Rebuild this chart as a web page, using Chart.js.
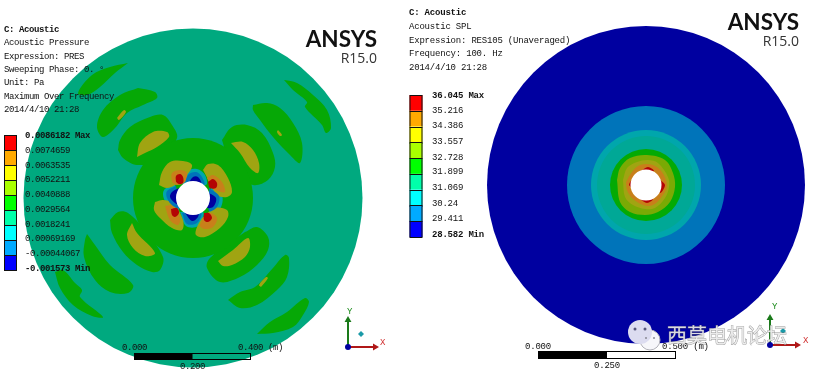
<!DOCTYPE html>
<html>
<head>
<meta charset="utf-8">
<style>
  html, body { margin: 0; padding: 0; background: #fff; overflow: hidden; }
  canvas { position: absolute; top: 0; }
</style>
<script src="https://cdn.jsdelivr.net/npm/chart.js@4/dist/chart.umd.min.js"></script>
</head>
<body>
<canvas id="pressure" width="400" height="373" style="left:0"></canvas>
<canvas id="spl" width="413" height="373" style="left:400px"></canvas>
<script>
// contour colours, top of the legend first
const bandColours = ['#ff0000', '#ffaa00', '#ffff00', '#aaff00', '#00ff00', '#00ffaa', '#00ffff', '#00aaff', '#0000ff'];
// same colours as they look on the lit model
const RED = '#b40404', ORANGE = '#c8801a', OLIVE = '#a0a412', GREEN = '#06a806', TEAL = '#00a97f', CYAN = '#00a6ac', SKY = '#0074ba', NAVY = '#0000a0';

const pressureTicks = ['0.0086182', '0.0074659', '0.0063535', '0.0052211', '0.0040888', '0.0029564', '0.0018241', '0.00069169', '-0.00044067', '-0.001573'];
const splTicks = ['36.045', '35.216', '34.386', '33.557', '32.728', '31.899', '31.069', '30.24', '29.411', '28.582'];

const pressureInfo = ['C: Acoustic', 'Acoustic Pressure', 'Expression: PRES', 'Sweeping Phase: 0. °', 'Unit: Pa', 'Maximum Over Frequency', '2014/4/10 21:28'];
const splInfo = ['C: Acoustic', 'Acoustic SPL', 'Expression: RES105 (Unaveraged)', 'Frequency: 100. Hz', '2014/4/10 21:28'];

// pressure plot, origin on the hole
const pressureDisc = 169.5, pressureCore = 60, pressureHole = 17;
const pressureGreen = [
  [[-65,135],[-83,131],[-101,123],[-115,105],[-106,103],[-93,111],[-78,125]],
  [[-55,110],[-38,106],[-36,100],[-50,93],[-66,85],[-78,70],[-90,61],[-96,71],[-90,88],[-73,103]],
  [[-75,48],[-73,58],[-63,71],[-43,81],[-30,83],[-21,73],[-16,60],[-33,38],[-56,33],[-70,40]],
  [[91,118],[104,115],[120,103],[134,88],[138,70],[133,65],[129,73],[112,91],[114,96],[100,108]],
  [[60,93],[74,95],[87,90],[100,75],[109,55],[107,35],[97,43],[80,61],[67,78],[60,88]],
  [[29,58],[39,71],[54,73],[69,65],[80,45],[82,31],[75,18],[60,13],[40,25]],
  [[-138,-74],[-130,-72],[-118,-85],[-111,-92],[-113,-99],[-90,-119],[-101,-118],[-120,-107],[-133,-90]],
  [[-106,-36],[-98,-47],[-83,-67],[-60,-87],[-65,-95],[-83,-94],[-98,-82],[-109,-59],[-108,-42]],
  [[-83,-22],[-81,-35],[-70,-54],[-56,-67],[-41,-74],[-33,-72],[-30,-59],[-50,-30],[-65,-15],[-75,-14]],
  [[64,-136],[77,-124],[94,-114],[112,-100],[116,-104],[110,-117],[100,-129],[80,-135]],
  [[35,-102],[47,-94],[62,-89],[80,-70],[92,-57],[96,-60],[94,-79],[84,-92],[64,-107],[47,-110]],
  [[52,-34],[64,-29],[75,-39],[75,-52],[64,-67],[47,-79],[27,-84],[14,-70],[17,-60]]
];
const pressureCyan = [
  [[-11,14],[-6,27],[4,29],[12,23],[13,13]],
  [[18,12],[29,3],[27,-11],[17,-15]],
  [[-13,-14],[-7,-28],[5,-28],[10,-14]],
  [[-18,14],[-29,8],[-29,-1],[-22,-10],[-14,-12]]
];
const pressureOlive = [
  [[-56,41],[-53,55],[-40,66],[-26,66],[-24,61],[-36,51],[-48,45]],
  [[38,55],[50,56],[60,48],[66,35],[65,25],[57,30],[47,45]],
  [[-61,-25],[-56,-35],[-38,-55],[-48,-58],[-60,-50],[-66,-37]],
  [[25,-63],[40,-52],[55,-40],[57,-49],[52,-59],[39,-67],[30,-68]],
  [[-34,13],[-31,26],[-23,36],[-10,37],[-1,33],[-6,23],[-18,13],[-26,10]],
  [[10,28],[15,34],[25,33],[35,20],[39,6],[34,1],[24,3],[17,15]],
  [[-38,-4],[-30,-2],[-20,-5],[-10,-22],[-11,-32],[-21,-30],[-33,-20],[-39,-12]],
  [[9,-20],[22,-10],[34,-12],[35,-19],[27,-30],[12,-39],[3,-37],[4,-29]],
  [[-76,80],[-69,88],[-67,86],[-74,78]],
  [[85,68],[89,63],[87,62],[84,66]],
  [[68,-89],[75,-80],[73,-79],[66,-87]]
];
const pressureOrange = [
  [[-21,16],[-21,25],[-13,28],[-6,25],[-8,16],[-16,13]],
  [[14,20],[20,23],[29,16],[32,6],[25,7],[19,10]],
  [[-28,-8],[-20,-8],[-13,-20],[-15,-27],[-23,-22]],
  [[10,-20],[17,-15],[24,-20],[20,-29],[12,-31],[7,-28]]
];
const pressureRed = [
  [[-17,16],[-17,22],[-13,24],[-10,21],[-10,15],[-14,14]],
  [[15,16],[20,19],[24,15],[23,10],[17,10]],
  [[-22,-11],[-16,-10],[-14,-15],[-18,-19],[-21,-17]],
  [[11,-15],[16,-15],[19,-20],[15,-24],[11,-22]]
];
const pressureSky = [
  [[-8,14],[-5,23],[3,26],[9,21],[11,13]],
  [[16,10],[26,2],[24,-9],[16,-13]],
  [[-11,-15],[-6,-26],[4,-25],[8,-15]],
  [[-17,12],[-26,7],[-26,0],[-20,-8],[-13,-10]]
];
const pressureNavy = [
  [[-5,14],[0,21],[5,21],[8,14]],
  [[14,6],[23,0],[20,-9],[13,-9]],
  [[-8,-15],[-1,-23],[5,-19],[5,-13]],
  [[-14,10],[-21,6],[-23,1],[-18,-5],[-13,-7]]
];

// SPL plot: outer rings are round, inner ones a bit square
const splRingRadii = [159, 79, 55, 49, 36];
const splRingColours = [NAVY, SKY, CYAN, '#00a896', '#04aa04'];
const splHole = 15.5;
const splYellowGreen = [[-29,5],[-26,17],[-16,27],[1,30],[19,25],[27,12],[29,-2],[24,-17],[12,-27],[-1,-30],[-16,-27],[-26,-17]];
const splYellow = [[-23,5],[-19,17],[-9,23],[2,25],[12,22],[22,8],[23,-2],[19,-13],[9,-23],[-1,-24],[-13,-20],[-21,-12]];
const splOrange = [[-20,3],[-14,13],[-6,20],[7,20],[16,13],[21,0],[17,-10],[7,-20],[-3,-20],[-14,-13],[-19,-5]];
const splRed = [
  [[-5,14],[2,18],[8,14]],
  [[13,6],[19,0],[14,-8]],
  [[-6,-14],[1,-18],[7,-14]],
  [[-13,-3],[-17,0],[-13,6]]
];

function patch(points, colour) {
  // closed filled contour
  const closed = points.concat([points[0]]).map(p => ({ x: p[0], y: p[1] }));
  return { type: 'scatter', data: closed, showLine: true, fill: 'shape', backgroundColor: colour,
           borderWidth: 0, pointRadius: 0, tension: 0.35 };
}
function round(r, colour) {
  return { type: 'bubble', data: [{ x: 0, y: 0, r: r }], backgroundColor: colour, borderWidth: 0 };
}
function stick(from, to, colour, rotation) {
  // triad arm with an arrow head on the end
  return { type: 'scatter', data: [{ x: from[0], y: from[1] }, { x: to[0], y: to[1] }], showLine: true, borderColor: colour, borderWidth: 2,
           pointRadius: [0, 4], pointStyle: 'triangle', pointRotation: rotation, pointBackgroundColor: colour, pointBorderWidth: 0 };
}

function overlay(cfg) {
  // legend, scale bar and all of the texts
  return {
    id: 'overlay',
    afterDraw(chart) {
      const ctx = chart.ctx;
      const mono = (size, bold) => (bold ? 'bold ' : '') + size + 'px "Liberation Mono"';
      ctx.save();
      ctx.textBaseline = 'middle';
      ctx.textAlign = 'left';
      ctx.fillStyle = '#111';

      ctx.letterSpacing = cfg.spacing;
      cfg.info.forEach((line, i) => {
        ctx.font = mono(9, i === 0);
        ctx.fillText(line, cfg.infoX, cfg.infoY[i]);
      });

      const step = (cfg.barBottom - cfg.barTop) / bandColours.length;
      bandColours.forEach((c, i) => {
        ctx.fillStyle = c;
        ctx.fillRect(cfg.barX, cfg.barTop + i * step, cfg.barW, step);
        ctx.strokeStyle = '#111';
        ctx.lineWidth = 1;
        ctx.strokeRect(cfg.barX + .5, Math.round(cfg.barTop + i * step) + .5, cfg.barW - 1, Math.round(step));
      });
      ctx.fillStyle = '#111';
      cfg.ticks.forEach((t, i) => {
        const end = i === 0 || i === cfg.ticks.length - 1;
        ctx.font = mono(9, end);
        let text = t;
        if (i === 0) text += ' Max';
        if (end && i !== 0) text += ' Min';
        ctx.fillText(text, cfg.tickX, cfg.tickY[i]);
      });

      // scale bar
      const s = cfg.scale;
      if (s.fillRight) { ctx.fillStyle = '#fff'; ctx.fillRect(s.x0, s.y, s.x1 - s.x0, s.h); }
      ctx.fillStyle = '#000';
      ctx.fillRect(s.x0, s.y, (s.x1 - s.x0) / 2, s.h);
      ctx.strokeStyle = '#000';
      ctx.strokeRect(s.x0 + .5, s.y + .5, s.x1 - s.x0 - 1, s.h - 1);
      ctx.fillStyle = '#111';
      ctx.font = mono(9);
      s.labels.forEach(l => ctx.fillText(l[0], l[1], l[2]));

      // triad letters
      ctx.font = mono(9);
      ctx.fillStyle = '#1a8a1a';
      ctx.fillText('Y', cfg.letterY[0], cfg.letterY[1]);
      ctx.fillStyle = '#d03030';
      ctx.fillText('X', cfg.letterX[0], cfg.letterX[1]);
      ctx.letterSpacing = '0px';

      // logo
      ctx.textAlign = 'right';
      ctx.fillStyle = '#111';
      ctx.font = '700 22.5px Lato';
      ctx.fillText('ANSYS', cfg.logoX, cfg.logoY);
      ctx.fillStyle = '#333';
      ctx.font = '14px "Open Sans"';
      ctx.fillText('R15.0', cfg.logoX, cfg.logoY + 19);

      if (cfg.watermark) {
        ctx.textAlign = 'left';
        ctx.font = '20px "Noto Sans CJK SC"';
        ctx.fillStyle = 'rgba(238,238,238,0.9)';
        ctx.strokeStyle = 'rgba(110,110,110,0.75)';
        ctx.lineWidth = 0.8;
        ctx.strokeText(cfg.watermark[0], cfg.watermark[1], cfg.watermark[2]);
        ctx.fillText(cfg.watermark[0], cfg.watermark[1], cfg.watermark[2]);
      }
      ctx.restore();
    }
  };
}

function drawPanel(id, datasets, range, cfg) {
  // first dataset ends up on top in chart.js, so order runs backwards
  datasets.forEach((d, i) => { d.order = datasets.length - i; });
  return new Chart(document.getElementById(id).getContext('2d'), {
    data: { datasets: datasets },
    options: {
      responsive: false,
      animation: false,
      events: [],
      layout: { padding: 0, autoPadding: false }, // bubbles would shrink the plot otherwise
      plugins: { legend: { display: false }, tooltip: { enabled: false } },
      scales: {
        x: { type: 'linear', display: false, min: range[0], max: range[1] },
        y: { type: 'linear', display: false, min: range[2], max: range[3] }
      }
    },
    plugins: [overlay(cfg)]
  });
}

drawPanel('pressure', [
  round(pressureDisc, TEAL),
  ...pressureGreen.map(p => patch(p, GREEN)),
  round(pressureCore, GREEN),
  ...pressureCyan.map(p => patch(p, CYAN)),
  ...pressureOlive.map(p => patch(p, OLIVE)),
  ...pressureOrange.map(p => patch(p, ORANGE)),
  ...pressureRed.map(p => patch(p, RED)),
  ...pressureSky.map(p => patch(p, SKY)),
  ...pressureNavy.map(p => patch(p, NAVY)),
  round(pressureHole, '#ffffff'),
  { type: 'bubble', data: [{ x: 168, y: -136, r: 3 }], backgroundColor: '#1a9aa8', borderWidth: 0, pointStyle: 'rectRot' },
  stick([155, -149], [155, -122], '#1a7a1a', 0),
  stick([155, -149], [182, -149], '#b01818', 90),
  { type: 'bubble', data: [{ x: 155, y: -149, r: 3 }], backgroundColor: '#0000a0', borderWidth: 0 }
], [-193, 207, -175, 198], {
  info: pressureInfo, infoX: 4, infoY: [30, 43, 57, 70, 83, 97, 110], spacing: '-0.4px',
  ticks: pressureTicks, tickX: 25, tickY: [136, 151, 166, 180, 195, 210, 225, 239, 254, 269],
  barX: 4, barW: 13, barTop: 135, barBottom: 270,
  scale: { x0: 134, x1: 251, y: 353, h: 7, labels: [['0.000', 122, 348], ['0.400 (m)', 238, 348], ['0.200', 180, 367]] },
  letterY: [347, 312], letterX: [380, 343],
  logoX: 377, logoY: 40
});

drawPanel('spl', [
  ...splRingRadii.map((r, i) => round(r, splRingColours[i])),
  patch(splYellowGreen, '#7aaa04'),
  patch(splYellow, OLIVE),
  patch(splOrange, ORANGE),
  ...splRed.map(p => patch(p, RED)),
  round(splHole, '#ffffff'),
  { type: 'bubble', data: [{ x: 137, y: -146, r: 3 }], backgroundColor: '#1a9aa8', borderWidth: 0, pointStyle: 'rectRot' },
  stick([124, -160], [124, -133], '#1a7a1a', 0),
  stick([124, -160], [151, -160], '#b01818', 90),
  { type: 'bubble', data: [{ x: 124, y: -160, r: 3 }], backgroundColor: '#0000a0', borderWidth: 0 },
  // wechat style mark in the watermark
  { type: 'bubble', data: [{ x: 4, y: -155, r: 10 }], backgroundColor: '#f6f6fa', borderColor: '#b0b0b8', borderWidth: 1 },
  { type: 'bubble', data: [{ x: -6, y: -147, r: 12 }], backgroundColor: '#dcdcf0', borderWidth: 0 },
  { type: 'bubble', data: [{ x: -11, y: -144, r: 1.5 }, { x: -1, y: -144, r: 1.5 }], backgroundColor: '#55557a', borderWidth: 0 },
  { type: 'bubble', data: [{ x: 0, y: -153, r: 1 }, { x: 8, y: -153, r: 1 }], backgroundColor: '#8a8a94', borderWidth: 0 }
], [-246, 167, -188, 185], {
  info: splInfo, infoX: 9, infoY: [13, 27, 41, 54, 68], spacing: '-0.2px',
  ticks: splTicks, tickX: 32, tickY: [96, 111, 126, 142, 158, 172, 188, 204, 219, 235],
  barX: 9.5, barW: 13, barTop: 95, barBottom: 237,
  scale: { x0: 138, x1: 276, y: 351, h: 8, fillRight: true, labels: [['0.000', 125, 347], ['0.500 (m)', 262, 347], ['0.250', 194, 366]] },
  letterY: [372, 307], letterX: [403, 341],
  logoX: 399, logoY: 23,
  watermark: ['西莫电机论坛', 267, 335]
});
</script>
</body>
</html>
